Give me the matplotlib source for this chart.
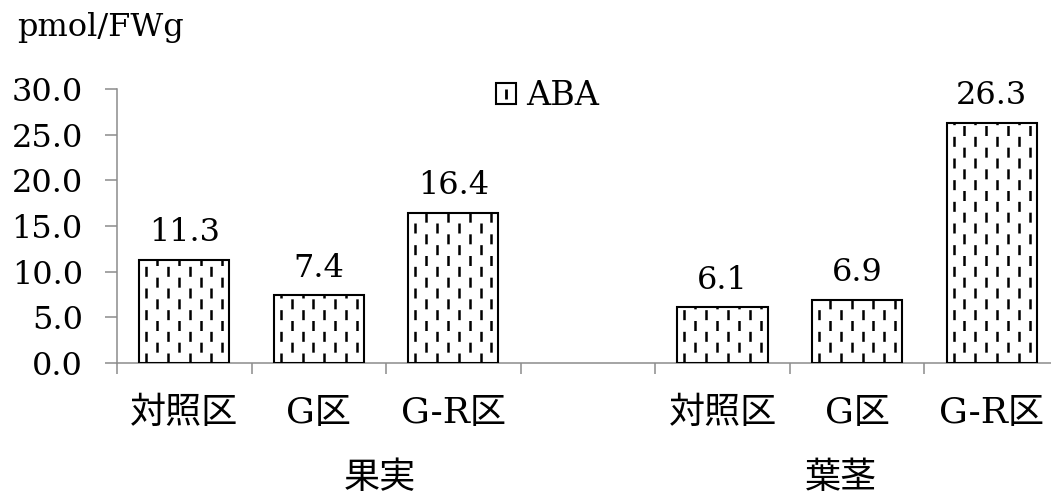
import numpy as np
import matplotlib
matplotlib.use("Agg")
import matplotlib.pyplot as plt
from matplotlib.patches import Patch
from matplotlib.lines import Line2D
from matplotlib.legend_handler import HandlerTuple
from matplotlib.ticker import FormatStrFormatter, MultipleLocator

plt.rcParams["font.family"] = ["DejaVu Serif", "Noto Sans CJK JP"]
plt.rcParams["lines.scale_dashes"] = False

# data (blank slot between the two groups)
categories = ["対照区", "G区", "G-R区", "", "対照区", "G区", "G-R区"]
aba_values = [11.3, 7.4, 16.4, np.nan, 6.1, 6.9, 26.3]
groups = ["果実", "葉茎"]
group_pos = [1.45, 4.88]
series_name = "ABA"
unit_label = "pmol/FWg"

AXIS_GRAY = "#8c8c8c"

fig = plt.figure(figsize=(10.51, 4.97), dpi=100)
ax = fig.add_axes([0.1113, 0.2696, 0.8963, 0.5513])

x = np.arange(len(categories))
bars = ax.bar(x, aba_values, width=0.67, facecolor="none",
              edgecolor="black", linewidth=1.5, zorder=3)

# staggered dashed vertical fill, clipped to each bar
for b in bars:
    h = b.get_height()
    if not np.isfinite(h) or h <= 0:
        continue
    x0, w = b.get_x(), b.get_width()
    cols = np.linspace(x0 + 0.052, x0 + w - 0.052, 8)
    for i, cx in enumerate(cols):
        off = 0.0 if i % 2 == 0 else 7.8
        lc = ax.vlines(cx, 0, h, colors="black", linewidth=1.8,
                       linestyles=[(off, (7.2, 8.4))], zorder=2)
        lc.set_clip_path(b)

# value labels
for xi, v in zip(x, aba_values):
    if np.isfinite(v):
        ax.annotate(f"{v:.1f}", (xi, v), xytext=(0, 13.5),
                    textcoords="offset points", ha="center", va="baseline",
                    fontsize=23)

ax.set_ylim(0, 30)
ax.set_xlim(-0.5, len(categories) - 0.5)
ax.yaxis.set_major_locator(MultipleLocator(5))
ax.yaxis.set_major_formatter(FormatStrFormatter("%.1f"))
ax.tick_params(axis="y", length=8.6, width=1.1, color=AXIS_GRAY,
               labelsize=23, pad=16)

ax.set_xticks(x)
ax.set_xticklabels(categories, fontsize=26)
ax.set_xticks(np.arange(len(categories) + 1) - 0.5, minor=True)
ax.tick_params(axis="x", which="major", length=0, pad=24)
ax.tick_params(axis="x", which="minor", length=8, width=1.1, color=AXIS_GRAY)

for s in ["top", "right"]:
    ax.spines[s].set_visible(False)
for s in ["left", "bottom"]:
    ax.spines[s].set_color(AXIS_GRAY)
    ax.spines[s].set_linewidth(1.1)

for g, gx in zip(groups, group_pos):
    ax.text(gx, -0.42, g, transform=ax.get_xaxis_transform(),
            ha="center", va="center", fontsize=26)

fig.text(0.016, 0.928, unit_label, fontsize=23, ha="left", va="baseline")

handle = (Patch(facecolor="white", edgecolor="black", linewidth=1.5),
          Line2D([], [], marker="|", markersize=7, markeredgewidth=2,
                 color="black", linestyle="none"))
fig.legend([handle], [series_name], handler_map={tuple: HandlerTuple(ndivide=1)},
           loc="upper left", bbox_to_anchor=(496 / 1051, 1 - 80 / 497),
           frameon=False, fontsize=24, handlelength=0.6, handleheight=0.6,
           handletextpad=0.3, borderpad=0, borderaxespad=0)

fig.savefig("out.png", dpi=100)
